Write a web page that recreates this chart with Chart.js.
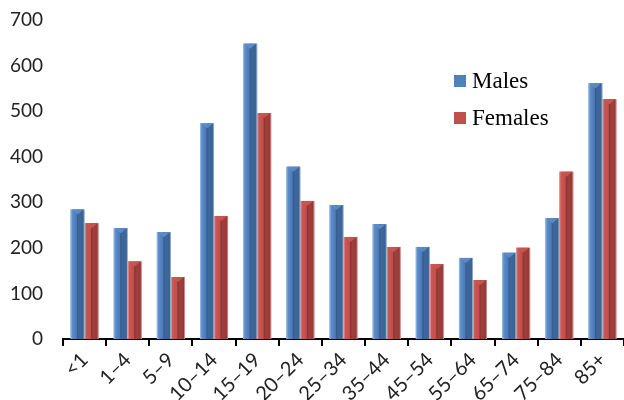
<!DOCTYPE html>
<html>
<head>
<meta charset="utf-8">
<script src="https://cdn.jsdelivr.net/npm/chart.js@4/dist/chart.umd.min.js"></script>
<style>
  body { margin: 0; background: #fff; }
  #wrap { position: relative; width: 624px; height: 400px; }
  #legend { position: absolute; left: 454px; top: 62px; font-family: "Liberation Serif", "Times New Roman", serif; font-size: 23px; color: #000; }
  #legend div { display: flex; align-items: center; height: 37px; }
  #legend span.box { display: inline-block; width: 12px; height: 12px; margin-right: 6px; }
</style>
</head>
<body>
<div id="wrap">
  <canvas id="myChart" width="624" height="400"></canvas>
  <div id="legend"></div>
</div>
<script>
const ageGroups = ['<1', '1–4', '5–9', '10–14', '15–19', '20–24', '25–34', '35–44', '45–54', '55–64', '65–74', '75–84', '85+'];
const males   = [284, 243, 234, 473, 648, 378, 294, 252, 202, 178, 189, 265, 561];
const females = [254, 170, 136, 270, 496, 303, 224, 202, 164, 129, 200, 367, 526];
const yTicks  = [0, 100, 200, 300, 400, 500, 600, 700];

// bevel shading for each column: light edge, face, dark ridge, darker side
const shades = {
    Males:   ['#a9c5ea', '#5d8dcb', '#4a7bb8', '#375d8e', '#3f6799', '#3b6395', '#b3cbe9'],
    Females: ['#e8aaa8', '#cc5652', '#c0504d', '#8c3431', '#a0403d', '#973a37', '#e2b0af']
};

const bevel = {
    id: 'bevel',
    afterDatasetDraw(chart, args) {
        const ctx = chart.ctx;
        const ds = chart.data.datasets[args.index];
        const s = shades[ds.label];
        args.meta.data.forEach(bar => {
            const left = bar.x - bar.width / 2;
            const w = bar.width;
            const top = bar.y;
            const h = bar.base - bar.y;
            const g = ctx.createLinearGradient(left, 0, left + w, 0);
            g.addColorStop(0, s[0]);
            g.addColorStop(0.12, s[1]);
            g.addColorStop(0.42, s[2]);
            g.addColorStop(0.5, s[3]);
            g.addColorStop(0.62, s[4]);
            g.addColorStop(0.9, s[5]);
            g.addColorStop(1, s[6]);
            ctx.save();
            ctx.fillStyle = g;
            ctx.fillRect(left, top, w, h);
            // little chevron on the cap
            ctx.fillStyle = s[1];
            ctx.globalAlpha = 0.9;
            ctx.beginPath();
            ctx.moveTo(left + 1, top);
            ctx.lineTo(left + w - 1, top);
            ctx.lineTo(left + w / 2, top + 5);
            ctx.closePath();
            ctx.fill();
            ctx.restore();
        });
    }
};

const chart = new Chart(document.getElementById('myChart'), {
    type: 'bar',
    data: {
        labels: ageGroups,
        datasets: [
            { label: 'Males', data: males, backgroundColor: '#4f81bd', borderWidth: 0 },
            { label: 'Females', data: females, backgroundColor: '#c0504d', borderWidth: 0 }
        ]
    },
    plugins: [bevel],
    options: {
        responsive: false,
        animation: false,
        layout: { padding: { top: 20, left: 6, right: 0, bottom: 0 } },
        datasets: { bar: { categoryPercentage: 0.65, barPercentage: 1 } },
        plugins: {
            legend: { display: false },
            tooltip: { enabled: false }
        },
        scales: {
            x: {
                offset: true,
                afterFit(scale) { scale.height = 61; },
                grid: {
                    offset: true,
                    drawOnChartArea: false,
                    drawTicks: true,
                    tickLength: 7,
                    color: '#000',
                    lineWidth: 2
                },
                border: { color: '#000', width: 2 },
                ticks: {
                    minRotation: 45,
                    maxRotation: 45,
                    padding: 2,
                    color: '#222',
                    font: { family: 'Lato', size: 20 }
                }
            },
            y: {
                min: 0,
                max: 700,
                afterBuildTicks(scale) { scale.ticks = yTicks.map(v => ({ value: v })); },
                afterFit(scale) {
                    scale.width = 57;
                    scale.paddingTop = 0;
                    scale.paddingBottom = 0;
                },
                grid: { display: false, drawTicks: false },
                border: { display: false },
                ticks: {
                    padding: 20,
                    color: '#222',
                    font: { family: 'Lato', size: 19 }
                }
            }
        }
    }
});

// legend built from the chart's datasets
const legendEl = document.getElementById('legend');
chart.data.datasets.forEach(ds => {
    const row = document.createElement('div');
    const box = document.createElement('span');
    box.className = 'box';
    box.style.background = ds.backgroundColor;
    row.appendChild(box);
    row.appendChild(document.createTextNode(ds.label));
    legendEl.appendChild(row);
});
</script>
</body>
</html>
